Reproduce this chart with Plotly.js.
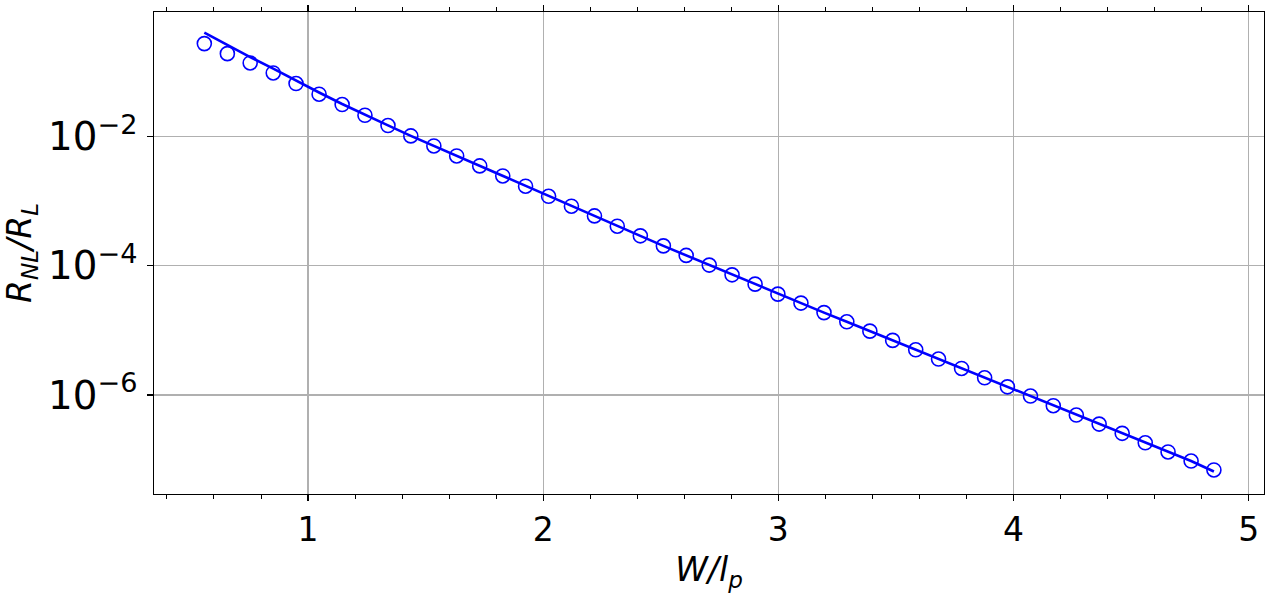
<!DOCTYPE html>
<html>
<head>
<meta charset="utf-8">
<script src="https://cdn.plot.ly/plotly-3.0.1.min.js"></script>
<style>html,body{margin:0;padding:0;background:#fff;}#chart{width:1268px;height:594px;}</style>
</head>
<body>
<div id="chart"></div>
<script>
// W / l_p values (markers)
const wOverLp = [0.559, 0.657, 0.754, 0.852, 0.949, 1.047, 1.145, 1.242, 1.340, 1.437,
  1.535, 1.632, 1.730, 1.828, 1.925, 2.023, 2.120, 2.218, 2.315, 2.413,
  2.511, 2.608, 2.706, 2.803, 2.901, 2.998, 3.096, 3.194, 3.291, 3.389,
  3.486, 3.584, 3.681, 3.779, 3.877, 3.974, 4.072, 4.169, 4.267, 4.364,
  4.462, 4.560, 4.657, 4.755, 4.852];
// R_NL / R_L data (open circles)
const ratioData = [0.270, 0.189, 0.1355, 0.0951, 0.0652, 0.0446, 0.0309, 0.0211, 0.01462, 0.01012,
  0.00708, 0.00496, 0.00348, 0.00243, 0.00169, 0.00118, 8.30e-4, 5.87e-4, 4.07e-4, 2.89e-4,
  2.02e-4, 1.44e-4, 1.02e-4, 7.21e-5, 5.18e-5, 3.63e-5, 2.64e-5, 1.88e-5, 1.355e-5, 9.73e-6,
  7.00e-6, 5.01e-6, 3.60e-6, 2.58e-6, 1.85e-6, 1.34e-6, 9.66e-7, 6.84e-7, 4.91e-7, 3.56e-7,
  2.56e-7, 1.83e-7, 1.32e-7, 9.57e-8, 6.95e-8];
// R_NL / R_L curve (solid line)
const ratioCurve = [0.400, 0.258, 0.167, 0.111, 0.0720, 0.0474, 0.0315, 0.0213, 0.01470, 0.01015,
  0.00708, 0.00496, 0.00348, 0.00243, 0.00169, 0.00118, 8.30e-4, 5.87e-4, 4.07e-4, 2.89e-4,
  2.02e-4, 1.44e-4, 1.02e-4, 7.21e-5, 5.18e-5, 3.63e-5, 2.64e-5, 1.88e-5, 1.355e-5, 9.73e-6,
  7.00e-6, 5.01e-6, 3.60e-6, 2.58e-6, 1.85e-6, 1.34e-6, 9.66e-7, 6.84e-7, 4.91e-7, 3.56e-7,
  2.56e-7, 1.83e-7, 1.32e-7, 9.57e-8, 6.60e-8];

const FONT = 'DejaVu Sans, sans-serif';

const traces = [
  {x: wOverLp, y: ratioCurve, type: 'scatter', mode: 'lines',
   line: {color: '#0000ff', width: 2.6}, hoverinfo: 'skip', showlegend: false},
  {x: wOverLp, y: ratioData, type: 'scatter', mode: 'markers',
   marker: {symbol: 'circle-open', size: 14, color: '#0000ff', line: {color: '#0000ff', width: 1.6}},
   showlegend: false}
];

const layout = {
  width: 1268, height: 594,
  margin: {l: 154, r: 4, t: 12, b: 100},
  paper_bgcolor: '#fff', plot_bgcolor: '#fff',
  font: {family: FONT, color: '#000', size: 33},
  showlegend: false,
  xaxis: {
    range: [0.345, 5.065], tick0: 0, dtick: 1,
    showgrid: true, gridcolor: '#b0b0b0', gridwidth: 1.2,
    zeroline: false, showline: true, linecolor: '#000', linewidth: 1.4, mirror: 'allticks',
    ticks: 'outside', ticklen: 6, tickwidth: 1.2, tickcolor: '#000',
    tickfont: {family: FONT, size: 33, color: '#000'},
    minor: {dtick: 0.2, tick0: 0, ticks: 'outside', ticklen: 3.5, tickwidth: 1, tickcolor: '#000', showgrid: false},
    title: {text: '<i>W/l</i><sub><i>p</i></sub>', font: {family: FONT, size: 33, color: '#000'}, standoff: 10},
    automargin: false
  },
  yaxis: {
    type: 'log', range: [-7.529, -0.08], tick0: 0, dtick: 2,
    exponentformat: 'power', showexponent: 'all',
    showgrid: true, gridcolor: '#b0b0b0', gridwidth: 1.2,
    zeroline: false, showline: true, linecolor: '#000', linewidth: 1.4, mirror: true,
    ticks: 'outside', ticklen: 6, tickwidth: 1.2, tickcolor: '#000',
    ticklabelstandoff: 3,
    tickfont: {family: FONT, size: 31, color: '#000'},
    title: {text: '<i>R</i><sub><i>NL</i></sub><i>/R</i><sub><i>L</i></sub>', font: {family: FONT, size: 33, color: '#000'}, standoff: 6},
    automargin: false
  }
};

Plotly.newPlot('chart', traces, layout, {displayModeBar: false, staticPlot: true});
</script>
</body>
</html>
